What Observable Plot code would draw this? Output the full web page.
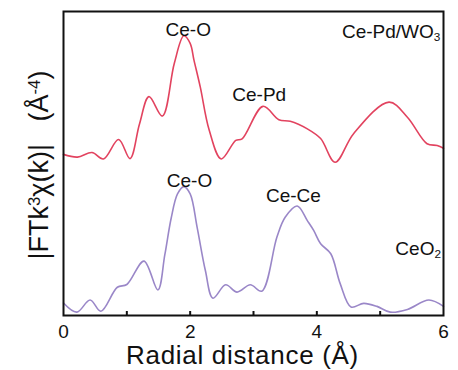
<!DOCTYPE html>
<html>
<head>
<meta charset="utf-8">
<script src="https://cdn.jsdelivr.net/npm/d3@7"></script>
<script src="https://cdn.jsdelivr.net/npm/@observablehq/plot@0.6"></script>
<style>
  html, body { margin: 0; padding: 0; background: #fff; }
  #chart { width: 458px; height: 370px; }
  svg { font-family: "Liberation Sans", Arial, sans-serif; }
</style>
</head>
<body>
<div id="chart"></div>
<script>
// Radial distance (Å) and |FT k^3 chi(k)| (arbitrary units, offset traces)
const pdR = [0, 0.22, 0.45, 0.63, 0.87, 1.05, 1.2, 1.35, 1.56, 1.75, 1.9, 2.0, 2.06, 2.16, 2.3, 2.49, 2.72, 2.82, 3.15, 3.4, 3.58, 3.85, 4.06, 4.29, 4.58, 5.14, 5.43, 5.74, 5.9, 6.0];
const pdV = [53.0, 52.1, 53.6, 51.5, 57.9, 51.6, 63.0, 72.0, 65.6, 83.0, 92.0, 89.5, 84.0, 75.1, 61.0, 51.5, 57.6, 58.1, 68.8, 64.4, 63.9, 61.4, 58.2, 50.4, 59.8, 70.2, 65.2, 56.5, 55.9, 55.0];

const ceR = [0, 0.21, 0.42, 0.59, 0.85, 1.0, 1.27, 1.49, 1.6, 1.7, 1.8, 1.9, 2.0, 2.11, 2.24, 2.36, 2.56, 2.74, 2.95, 3.13, 3.37, 3.5, 3.69, 3.85, 3.95, 4.06, 4.22, 4.37, 4.54, 4.74, 4.95, 5.16, 5.43, 5.77, 6.0];
const ceV = [4.1, 1.1, 5.1, 1.4, 9.3, 10.2, 17.9, 8.4, 20.0, 32.0, 40.0, 42.4, 40.0, 29.0, 14.8, 5.7, 10.1, 7.7, 10.1, 8.0, 25.8, 32.3, 36.0, 31.2, 28.0, 23.6, 20.3, 10.4, 2.8, 4.0, 3.0, 1.1, 2.0, 5.1, 3.0];

const xTickLabels = [0, 2, 4, 6];
const xMinorTicks = [1, 2, 3, 4, 5];

// peak annotations
const peakLabels = ["Ce-O", "Ce-Pd", "Ce-O", "Ce-Ce"];
const peakX = [1.97, 3.09, 1.99, 3.63];
const peakY = [91.8, 70.7, 42.4, 37.5];

// sample labels (right-aligned)
const sampleLabels = ["Ce-Pd/WO_3", "CeO_2"];
const sampleX = [5.95, 5.96];
const sampleY = [91.4, 20.0];

const xLabel = "Radial distance (Å)";
// y-axis title pieces: [text, superscript?]
const yLabelParts = [["|FTk", false], ["3", true], ["χ(k)|\u00a0\u00a0\u00a0(Å", false], ["-4", true], [")", false]];

const pdData = pdR.map((r, i) => ({r, v: pdV[i]}));
const ceData = ceR.map((r, i) => ({r, v: ceV[i]}));
const peaks = peakLabels.map((t, i) => ({t, x: peakX[i], y: peakY[i]}));
const samples = sampleLabels.map((t, i) => ({t, x: sampleX[i], y: sampleY[i]}));

const chart = Plot.plot({
  width: 458,
  height: 370,
  marginLeft: 63,
  marginRight: 15,
  marginTop: 11,
  marginBottom: 55,
  style: {fontFamily: "'Liberation Sans', Arial, sans-serif", background: "white"},
  x: {domain: [0, 6]},
  y: {domain: [0, 100], axis: null},
  marks: [
    Plot.line(pdData, {x: "r", y: "v", curve: "catmull-rom", stroke: "#e2435f", strokeWidth: 1.6}),
    Plot.line(ceData, {x: "r", y: "v", curve: "catmull-rom", stroke: "#9a87c8", strokeWidth: 1.6}),
    Plot.frame({stroke: "#111", strokeWidth: 2}),
    Plot.axisX(xMinorTicks, {tickSize: 4, dy: -4, tickFormat: () => "", strokeWidth: 2, stroke: "#111"}),
    Plot.axisX(xTickLabels, {tickSize: 0, tickPadding: 9, fontSize: 19, fill: "#111"}),
    Plot.text(peaks, {x: "x", y: "y", text: "t", fontSize: 19, lineAnchor: "bottom", textAnchor: "middle", fill: "#111"}),
    Plot.text(samples, {x: "x", y: "y", text: "t", fontSize: 19, lineAnchor: "bottom", textAnchor: "end", fill: "#111"}),
    Plot.text([xLabel], {frameAnchor: "bottom", text: d => d, dy: 30, dx: -11, fontSize: 26, lineAnchor: "top", fill: "#111"})
  ]
});

const svg = d3.select(chart);

// render subscripts as tspans
svg.selectAll("text").each(function () {
  const el = d3.select(this);
  if (this.querySelector("tspan")) return;
  const s = this.textContent;
  if (!/_/.test(s)) return;
  el.text(null);
  const re = /_(\d)|([^_]+)/g;
  let m;
  while ((m = re.exec(s))) {
    if (m[2]) el.append("tspan").text(m[2]);
    else el.append("tspan").attr("baseline-shift", "-25%").attr("font-size", "0.62em").text(m[1]);
  }
});

svg.selectAll("text").filter(function () { return this.textContent === xLabel; })
  .style("letter-spacing", "0.7px");

// rotated y-axis title
const yt = svg.append("text")
  .attr("transform", "translate(48,165) rotate(-90)")
  .attr("text-anchor", "middle")
  .attr("font-size", 27)
  .attr("fill", "#111");
for (const [t, sup] of yLabelParts) {
  const ts = yt.append("tspan").text(t);
  if (sup) ts.attr("baseline-shift", "45%").attr("font-size", "0.62em");
}

document.getElementById("chart").appendChild(chart);
</script>
</body>
</html>
